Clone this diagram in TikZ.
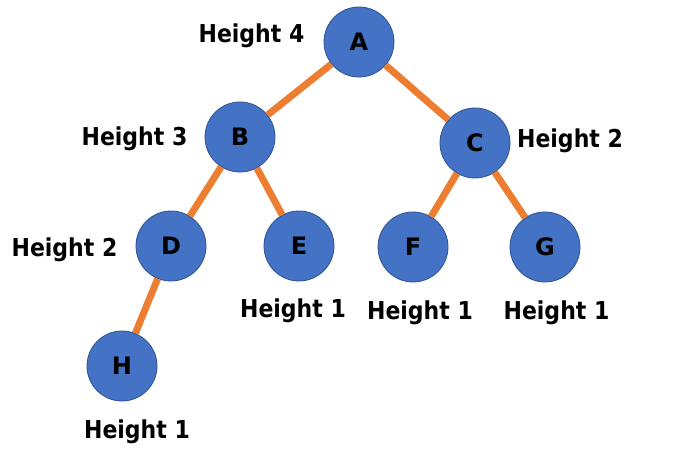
\documentclass[tikz,border=0pt]{standalone}
\usepackage{fontspec}
\usepackage{graphicx}
\setmainfont{DejaVu Sans}
\definecolor{nodeblue}{HTML}{4472C4}
\definecolor{nodeborder}{HTML}{2F528F}
\definecolor{edgeorange}{HTML}{ED7D31}
\newcommand{\htext}[1]{\scalebox{1}[1.12]{#1}}
\begin{document}
\begin{tikzpicture}[x=0.75pt,y=-0.75pt,
  treenode/.style={circle,fill=nodeblue,draw=nodeborder,line width=0.6pt,minimum size=52.5pt,inner sep=0pt,font=\fontsize{18}{20}\selectfont\bfseries},
  hlabel/.style={anchor=base,inner sep=0pt,font=\fontsize{16.5}{20}\selectfont\bfseries},
  edge/.style={draw=edgeorange,line width=5.2pt}]
\useasboundingbox (0,0) rectangle (678,459);
\node[treenode] (A) at (359,42) {A};
\node[treenode] (B) at (240,137) {B};
\node[treenode] (C) at (475,143) {C};
\node[treenode] (D) at (171,246) {D};
\node[treenode] (E) at (299,246) {E};
\node[treenode] (F) at (413,247) {F};
\node[treenode] (G) at (545,247) {G};
\node[treenode] (H) at (122,366) {H};
\draw[edge] (A) -- (B);
\draw[edge] (A) -- (C);
\draw[edge] (B) -- (D);
\draw[edge] (B) -- (E);
\draw[edge] (C) -- (F);
\draw[edge] (C) -- (G);
\draw[edge] (D) -- (H);
\node[hlabel] (lA) at (251.5,43) {\htext{Height 4}};
\node[hlabel] (lB) at (134.5,146) {\htext{Height 3}};
\node[hlabel] (lC) at (570,148) {\htext{Height 2}};
\node[hlabel] (lD) at (64.5,257) {\htext{Height 2}};
\node[hlabel] (lE) at (293,318) {\htext{Height 1}};
\node[hlabel] (lF) at (420,320) {\htext{Height 1}};
\node[hlabel] (lG) at (556.5,320) {\htext{Height 1}};
\node[hlabel] (lH) at (137,438) {\htext{Height 1}};
\end{tikzpicture}
\end{document}
